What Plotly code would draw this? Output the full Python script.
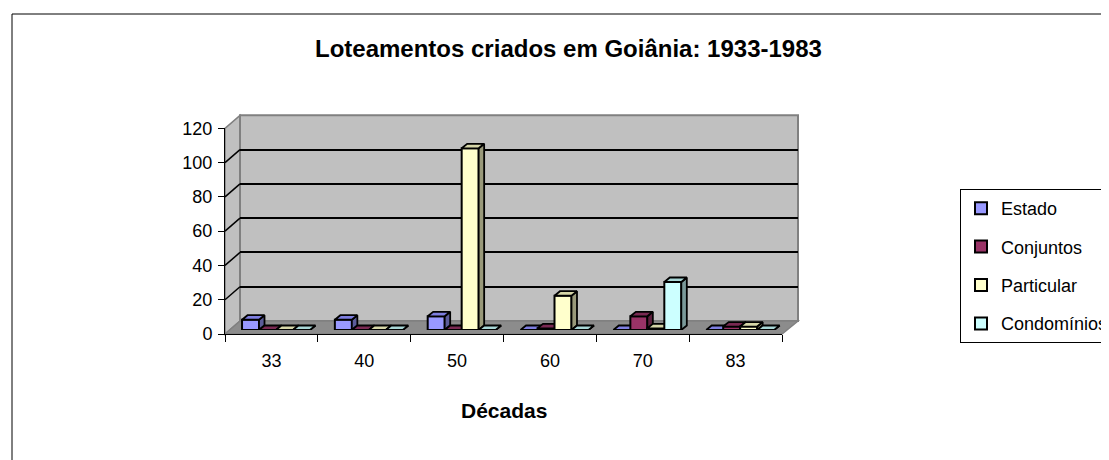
import plotly.graph_objects as go

# ---------------- data ----------------
decades = ["33", "40", "50", "60", "70", "83"]
series_names = ["Estado", "Conjuntos", "Particular", "Condomínios"]
estado = [6, 6, 8, 0, 0, 0]
conjuntos = [0, 0, 0, 1, 8, 2]
particular = [0, 0, 106, 20, 1, 2]
condominios = [0, 0, 0, 0, 28, 0]
y_ticks = [0, 20, 40, 60, 80, 100, 120]
title_text = "Loteamentos criados em Goiânia: 1933-1983"
x_title = "Décadas"

series_values = [estado, conjuntos, particular, condominios]
front_colors = ["#9999FF", "#993366", "#FFFFCC", "#CCFFFF"]
top_colors = ["#7E7EE0", "#7A2952", "#D6D6A8", "#A8D6D6"]
side_colors = ["#5C5C99", "#5C1F3D", "#99997A", "#7A9999"]

# ---------------- geometry (page pixels) ----------------
OX, OY = 8, 8                 # page body margin
W, H = 1101, 452
S = 1.714                     # px per unit
FX0, FX1, FY0 = 225, 782, 334          # front plane
BX0, BX1, BY0 = 240, 798, 321          # back wall
MX0, MX1, MY0 = 232, 789, 330          # bar plane
YMAX = 120
FONT = "Liberation Sans, Arial, sans-serif"


def px(x):
    return (x - OX) / W


def py(y):
    return (H - (y - OY)) / H


def path(points):
    return "M " + " L ".join(f"{px(x):.5f},{py(y):.5f}" for x, y in points) + " Z"


fig = go.Figure()

# back wall subplot (gridlines)
fig.add_trace(go.Scatter(x=decades, y=[None] * 6, mode="markers", showlegend=False,
                         hoverinfo="skip", xaxis="x", yaxis="y"))
# front subplot (axes, labels)
fig.add_trace(go.Scatter(x=decades, y=[None] * 6, mode="markers", showlegend=False,
                         hoverinfo="skip", xaxis="x2", yaxis="y2"))

positions = list(range(len(decades)))
bar_w = 0.183
off0 = -0.392
dxu = 5.5 / ((MX1 - MX0) / 6)   # depth in category units
dyu = 4.5 / S                   # depth in value units

for j, (name, vals) in enumerate(zip(series_names, series_values)):
    xa, ya = f"x{j + 3}", f"y{j + 3}"
    off = off0 + j * bar_w
    fig.add_trace(go.Bar(
        x=positions, y=vals, name=name, legendgroup=name,
        width=bar_w, offset=off, customdata=decades,
        marker=dict(color=front_colors[j], line=dict(color="black", width=2)),
        hovertemplate="%{customdata}: %{y}<extra>" + name + "</extra>",
        xaxis=xa, yaxis=ya))
    tx, ty, sx, sy = [], [], [], []
    for i, v in zip(positions, vals):
        L = i + off
        R = L + bar_w
        tx += [L, L + dxu, R + dxu, R, L, None]
        ty += [v, v + dyu, v + dyu, v, v, None]
        sx += [R, R + dxu, R + dxu, R, R, None]
        sy += [0, dyu, v + dyu, v, 0, None]
    fig.add_trace(go.Scatter(x=sx, y=sy, mode="lines", fill="toself",
                             fillcolor=side_colors[j], line=dict(color="black", width=1.8),
                             showlegend=False, legendgroup=name, hoverinfo="skip",
                             xaxis=xa, yaxis=ya))
    fig.add_trace(go.Scatter(x=tx, y=ty, mode="lines", fill="toself",
                             fillcolor=top_colors[j], line=dict(color="black", width=1.8),
                             showlegend=False, legendgroup=name, hoverinfo="skip",
                             xaxis=xa, yaxis=ya))

shapes = []
# outer chart border
shapes.append(dict(type="rect", xref="paper", yref="paper",
                   x0=px(12), y0=py(475), x1=px(1125), y1=py(14),
                   line=dict(color="black", width=1), fillcolor="white", layer="below"))
# side wall
shapes.append(dict(type="path", xref="paper", yref="paper", layer="below",
                   path=path([(FX0, FY0), (FX0, FY0 - S * YMAX), (BX0, BY0 - S * YMAX), (BX0, BY0)]),
                   fillcolor="#C0C0C0", line=dict(color="#808080", width=1.5)))
# back wall
shapes.append(dict(type="path", xref="paper", yref="paper", layer="below",
                   path=path([(BX0, BY0), (BX0, BY0 - S * YMAX), (BX1, BY0 - S * YMAX), (BX1, BY0)]),
                   fillcolor="#C0C0C0", line=dict(color="#808080", width=2)))
# floor
shapes.append(dict(type="path", xref="paper", yref="paper", layer="below",
                   path=path([(FX0, FY0), (FX1, FY0), (BX1, BY0), (BX0, BY0)]),
                   fillcolor="#8C8C8C", line=dict(color="#808080", width=1.5)))
# side-wall gridlines
for v in y_ticks[1:-1]:
    shapes.append(dict(type="line", xref="paper", yref="paper", layer="below",
                       x0=px(FX0), y0=py(FY0 - S * v), x1=px(BX0), y1=py(BY0 - S * v),
                       line=dict(color="black", width=1.5)))

hidden_x = dict(visible=False, range=[-0.5, 5.5], fixedrange=True)
hidden_y = dict(visible=False, range=[0, YMAX], fixedrange=True)

layout = dict(
    width=W, height=H,
    margin=dict(l=0, r=0, t=0, b=0, autoexpand=False),
    paper_bgcolor="white", plot_bgcolor="rgba(0,0,0,0)",
    font=dict(family=FONT, size=18, color="black"),
    barmode="overlay",
    showlegend=True,
    legend=dict(x=px(960), y=py(189), xanchor="left", yanchor="top",
                bordercolor="black", borderwidth=1, bgcolor="white",
                font=dict(family=FONT, size=18, color="black"),
                tracegroupgap=12, traceorder="grouped"),
    shapes=shapes,
    annotations=[
        dict(text=f"<b>{title_text}</b>", xref="paper", yref="paper",
             x=px(568), y=py(48), showarrow=False, xanchor="center", yanchor="middle",
             font=dict(family=FONT, size=24, color="black")),
        dict(text=f"<b>{x_title}</b>", xref="paper", yref="paper",
             x=px((FX0 + FX1) / 2), y=py(410), showarrow=False, xanchor="center",
             yanchor="middle", font=dict(family=FONT, size=21, color="black")),
    ],
    # back wall
    xaxis=dict(domain=[px(BX0), px(BX1)], anchor="y", visible=False, type="category",
               categoryarray=decades, range=[-0.5, 5.5], fixedrange=True),
    yaxis=dict(domain=[py(BY0), py(BY0 - S * YMAX)], anchor="x", range=[0, YMAX],
               tickvals=y_ticks[1:-1], showgrid=True, gridcolor="black", gridwidth=1.5,
               showticklabels=False, ticks="", zeroline=False, showline=False, fixedrange=True),
    # front axes
    xaxis2=dict(domain=[px(FX0), px(FX1)], anchor="y2", type="category",
                categoryarray=decades, range=[-0.5, 5.5], tickson="boundaries",
                ticks="outside", ticklen=7, tickwidth=1, tickcolor="black",
                showline=True, linecolor="black", linewidth=1, showgrid=False,
                tickfont=dict(size=18), ticklabelstandoff=10, fixedrange=True),
    yaxis2=dict(domain=[py(FY0), py(FY0 - S * YMAX)], anchor="x2", range=[0, YMAX],
                tickvals=y_ticks, ticks="outside", ticklen=6, tickwidth=1, tickcolor="black",
                showline=True, linecolor="black", linewidth=1, showgrid=False,
                zeroline=False, tickfont=dict(size=18), ticklabelstandoff=2, fixedrange=True),
)
for j in range(4):
    layout[f"xaxis{j + 3}"] = dict(domain=[px(MX0), px(MX1)], anchor=f"y{j + 3}", **hidden_x)
    layout[f"yaxis{j + 3}"] = dict(domain=[py(MY0), py(MY0 - S * YMAX)], anchor=f"x{j + 3}",
                                   **hidden_y)

fig.update_layout(**layout)
fig.write_html("out.html")
